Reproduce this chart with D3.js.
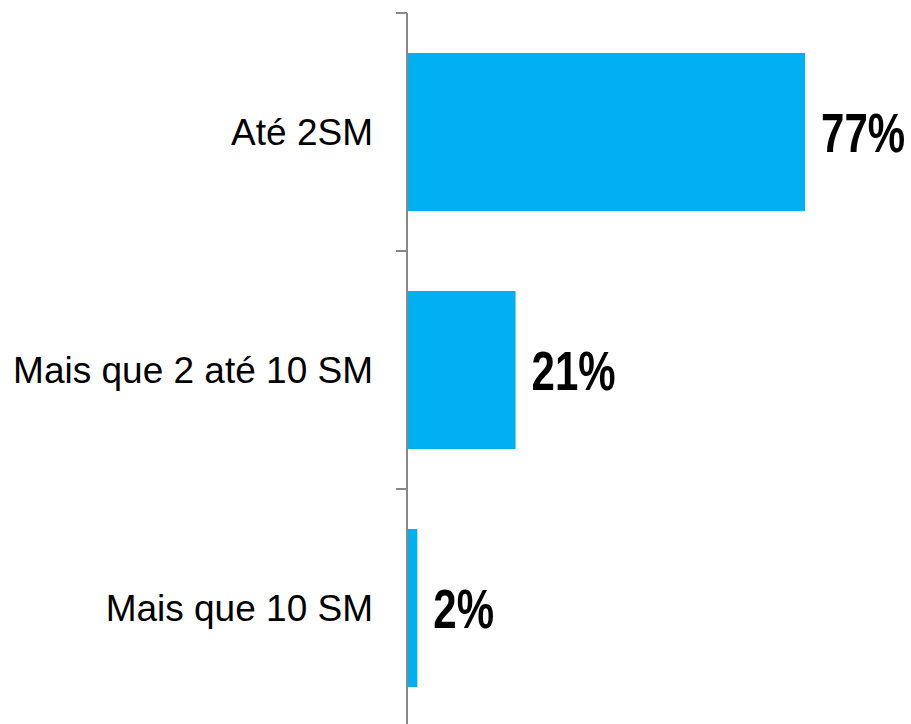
<!DOCTYPE html>
<html>
<head>
<meta charset="utf-8">
<script src="https://cdn.jsdelivr.net/npm/d3@7"></script>
<style>
  body { margin: 0; background: #fff; }
  svg { display: block; }
</style>
</head>
<body>
<svg id="chart" width="911" height="724"></svg>
<script>
const categories = ['Até 2SM', 'Mais que 2 até 10 SM', 'Mais que 10 SM'];
const values = [77, 21, 2];
const valueLabels = ['77%', '21%', '2%'];

const svg = d3.select('#chart');
const margin = { left: 407, top: 13 };

// band scale so that each category gets a 238px slot
const y = d3.scaleBand()
  .domain(categories)
  .range([margin.top, margin.top + 238 * 3])
  .paddingInner(0.336)
  .paddingOuter(0.168);

const x = d3.scaleLinear().domain([0, 100]).range([margin.left, margin.left + 517]);

// bars
svg.selectAll('rect.bar').data(values)
  .enter().append('rect')
    .attr('class', 'bar')
    .attr('x', x(0) + 1)
    .attr('y', (d, i) => y(categories[i]))
    .attr('width', d => x(d) - x(0) - 1)
    .attr('height', y.bandwidth())
    .attr('fill', '#00b0f0');

// axis line and ticks at band boundaries
svg.append('line')
  .attr('x1', margin.left).attr('x2', margin.left)
  .attr('y1', margin.top).attr('y2', 724)
  .attr('stroke', '#888').attr('stroke-width', 2);

const ticks = d3.range(categories.length + 1).map(i => margin.top + i * y.step());
svg.selectAll('line.tick').data(ticks)
  .enter().append('line')
    .attr('class', 'tick')
    .attr('x1', margin.left - 11).attr('x2', margin.left)
    .attr('y1', d => d).attr('y2', d => d)
    .attr('stroke', '#888').attr('stroke-width', 2);

// category labels
svg.selectAll('text.cat').data(categories)
  .enter().append('text')
    .attr('class', 'cat')
    .attr('x', margin.left - 34)
    .attr('y', d => y(d) + y.bandwidth() / 2)
    .attr('dy', '0.35em')
    .attr('text-anchor', 'end')
    .style('font-family', '"Liberation Sans", Arial, sans-serif')
    .style('font-size', '37px')
    .attr('fill', '#000')
    .text(d => d);

// value labels, condensed horizontally like Arial Narrow
svg.selectAll('text.val').data(values)
  .enter().append('text')
    .attr('class', 'val')
    .attr('transform', (d, i) => `translate(${x(d) + 16},${y(categories[i]) + y.bandwidth() / 2}) scale(0.75,1)`)
    .attr('dy', '0.36em')
    .style('font-family', '"Liberation Sans", Arial, sans-serif')
    .style('font-weight', 'bold')
    .style('font-size', '56px')
    .attr('fill', '#000')
    .text((d, i) => valueLabels[i]);
</script>
</body>
</html>
